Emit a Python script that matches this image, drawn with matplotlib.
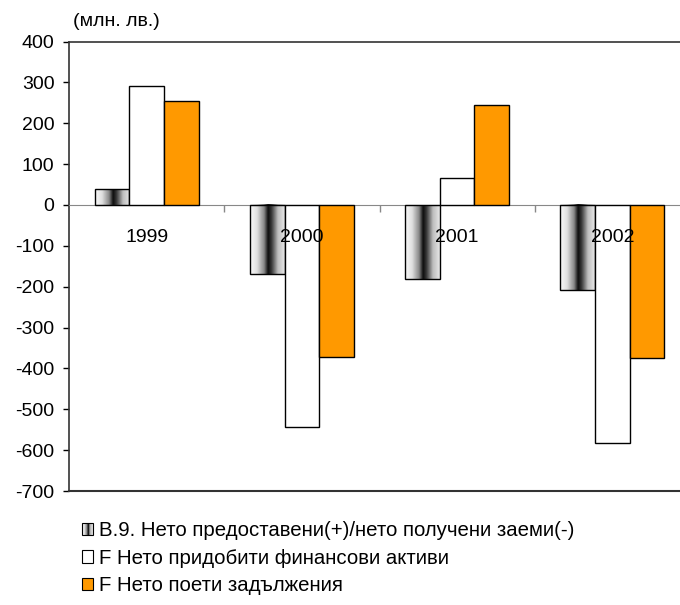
import numpy as np
import matplotlib
matplotlib.use("Agg")
import matplotlib.pyplot as plt
from matplotlib.patches import Rectangle
from matplotlib.legend_handler import HandlerBase
from matplotlib.colors import LinearSegmentedColormap

plt.rcParams['font.family'] = ['Liberation Sans', 'DejaVu Sans']

years = ['1999', '2000', '2001', '2002']
loans = [38, -170, -180, -209]          # B.9
assets = [292, -543, 66, -583]          # F assets
liabilities = [255, -372, 245, -375]    # F liabilities
series_labels = ['В.9. Нето предоставени(+)/нето получени заеми(-)',
                 'F Нето придобити финансови активи',
                 'F Нето поети задължения']
unit_label = '(млн. лв.)'
yticks = [400, 300, 200, 100, 0, -100, -200, -300, -400, -500, -600, -700]

ORANGE = '#FF9900'
grad_cmap = LinearSegmentedColormap.from_list(
    'g', [(0.0, '#fafafa'), (0.2, '#e0e0e0'), (0.4, '#8a8a8a'),
          (0.52, '#0d0d0d'), (0.62, '#3a3a3a'), (0.8, '#bdbdbd'), (1.0, '#e8e8e8')])

fig = plt.figure(figsize=(6.8, 6.05), dpi=100)
W, H = 680, 605
ax = fig.add_axes([69 / W, (H - 491) / H, 621 / W, 449.5 / H])

x = np.arange(len(years))
bw = 0.223
b1 = ax.bar(x - bw, loans, bw, facecolor='none', edgecolor='black', lw=1.0, zorder=3)
ax.bar(x, assets, bw, facecolor='white', edgecolor='black', lw=1.0, zorder=3)
ax.bar(x + bw, liabilities, bw, facecolor=ORANGE, edgecolor='black', lw=1.0, zorder=3)

grad = np.linspace(0, 1, 256).reshape(1, -1)
for r in b1:
    x0, y0 = r.get_x(), r.get_y()
    w, h = r.get_width(), r.get_height()
    ax.imshow(grad, cmap=grad_cmap, aspect='auto', interpolation='bilinear',
              extent=[x0, x0 + w, min(y0, y0 + h), max(y0, y0 + h)], zorder=2)

ax.set_xlim(-0.5, 3.5)
ax.set_ylim(-700, 400)

# y axis
ax.set_yticks(yticks)
ax.set_yticklabels([str(v) for v in yticks])
ax.tick_params(axis='y', direction='out', length=4.5, width=1, pad=6, labelsize=14)

# x axis at zero
ax.spines['bottom'].set_position(('data', 0))
ax.spines['bottom'].set_color('#888888')
ax.spines['bottom'].set_zorder(2.5)
ax.spines['right'].set_visible(False)
ax.spines['top'].set_linewidth(1.2)
ax.spines['top'].set_color('#333333')
ax.spines['left'].set_linewidth(1.2)
ax.spines['left'].set_color('#333333')
ax.set_xticks([0.5, 1.5, 2.5])
ax.set_xticklabels(['', '', ''])
ax.tick_params(axis='x', which='major', direction='out', length=5, color='#888888', width=1)
ax.set_xticks(x, minor=True)
ax.set_xticklabels(years, minor=True)
ax.tick_params(axis='x', which='minor', length=0, pad=17, labelsize=14)
for lab in ax.get_xticklabels(minor=True):
    lab.set_zorder(10)
ax.xaxis.set_zorder(5)
ax.axhline(-700, color='#333333', lw=1.5, clip_on=False, zorder=5)

fig.text(73 / W, 1 - 22 / H, unit_label, fontsize=14, va='center', ha='left')


class HandlerGradient(HandlerBase):
    def create_artists(self, legend, orig_handle, xdescent, ydescent, width, height, fontsize, trans):
        n = 12
        arts = []
        for i in range(n):
            c = grad_cmap((i + 0.5) / n)
            arts.append(Rectangle((-xdescent + width * i / n, -ydescent), width / n, height,
                                  facecolor=c, edgecolor='none', transform=trans))
        arts.append(Rectangle((-xdescent, -ydescent), width, height, facecolor='none',
                              edgecolor='black', lw=0.8, transform=trans))
        return arts


h1 = Rectangle((0, 0), 1, 1, facecolor='gray')
h2 = Rectangle((0, 0), 1, 1, facecolor='white', edgecolor='black', lw=0.8)
h3 = Rectangle((0, 0), 1, 1, facecolor=ORANGE, edgecolor='black', lw=0.8)
fig.legend([h1, h2, h3], series_labels, handler_map={h1: HandlerGradient()},
           loc='upper left', bbox_to_anchor=(82 / W, 1 - 521 / H), frameon=False,
           fontsize=14.7, handlelength=0.55, handleheight=0.55, handletextpad=0.3,
           labelspacing=0.42, borderpad=0, borderaxespad=0)

fig.savefig('out.png', dpi=100)
